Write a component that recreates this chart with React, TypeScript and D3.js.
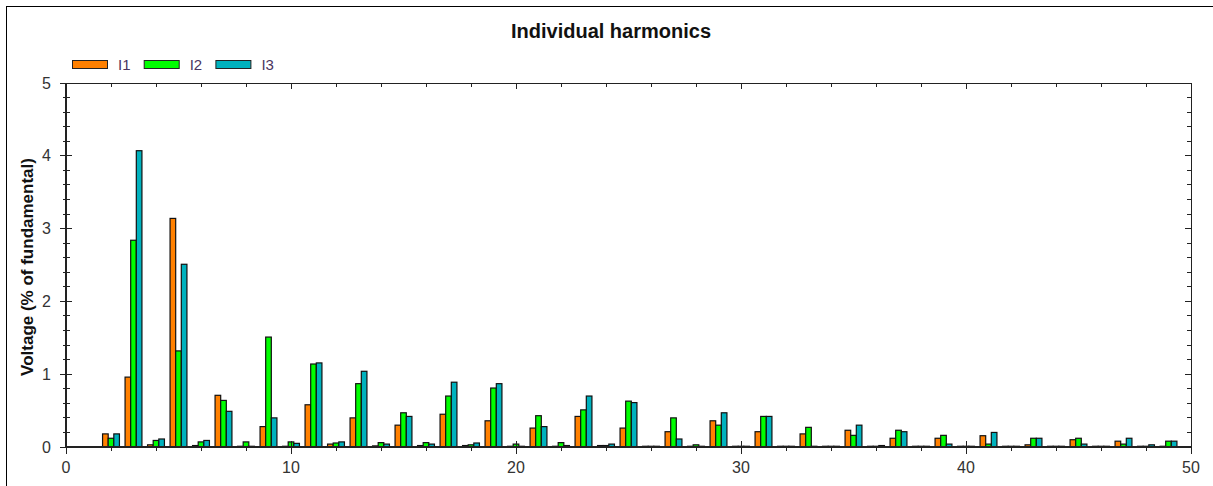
import React from "react";
import * as d3 from "d3";

// Harmonic orders shown on the x axis
const harmonics = [
  2, 3, 4, 5, 6, 7, 8, 9, 10, 11, 12, 13, 14, 15, 16, 17, 18, 19, 20, 21, 22, 23, 24, 25,
  26, 27, 28, 29, 30, 31, 32, 33, 34, 35, 36, 37, 38, 39, 40, 41, 42, 43, 44, 45, 46, 47, 48, 49,
];

// Harmonic magnitude, % of fundamental, per phase
const i1 = [
  0.18, 0.96, 0.03, 3.14, 0.02, 0.71, 0.01, 0.28, 0.01, 0.58, 0.04, 0.4, 0.015, 0.3, 0.02, 0.45,
  0.02, 0.36, 0.01, 0.26, 0.01, 0.42, 0.02, 0.26, 0.01, 0.21, 0.01, 0.36, 0.01, 0.21, 0.01, 0.18,
  0.01, 0.23, 0.01, 0.12, 0.01, 0.12, 0.01, 0.155, 0.01, 0.03, 0.01, 0.1, 0.01, 0.08, 0.01, 0.01,
];
const i2 = [
  0.12, 2.84, 0.09, 1.32, 0.07, 0.64, 0.07, 1.51, 0.07, 1.14, 0.055, 0.87, 0.06, 0.47, 0.06, 0.7,
  0.03, 0.81, 0.04, 0.43, 0.06, 0.51, 0.02, 0.63, 0.01, 0.4, 0.03, 0.3, 0.01, 0.42, 0.01, 0.27,
  0.01, 0.16, 0.01, 0.23, 0.01, 0.16, 0.01, 0.04, 0.01, 0.12, 0.01, 0.12, 0.01, 0.04, 0.01, 0.08,
];
const i3 = [
  0.18, 4.07, 0.11, 2.51, 0.09, 0.49, 0.01, 0.4, 0.05, 1.155, 0.07, 1.04, 0.04, 0.42, 0.04, 0.89,
  0.055, 0.87, 0.01, 0.28, 0.02, 0.7, 0.04, 0.61, 0.01, 0.11, 0.01, 0.47, 0.01, 0.42, 0.01, 0.01,
  0.01, 0.3, 0.02, 0.21, 0.01, 0.04, 0.01, 0.2, 0.01, 0.12, 0.01, 0.04, 0.01, 0.12, 0.03, 0.08,
];

const seriesNames = ["I1", "I2", "I3"];
const seriesValues = [i1, i2, i3];
const seriesColors = ["#FF8000", "#00FF00", "#00B2BE"];

const xMajorTicks = [0, 10, 20, 30, 40, 50];
const yMajorTicks = [0, 1, 2, 3, 4, 5];

const W = 1213;
const H = 486;
const FONT = "'Liberation Sans', Arial, sans-serif";

export default function App() {
  const left = 66;
  const right = 1191;
  const top = 83;
  const bottom = 447;

  const x = d3.scaleLinear().domain([0, 50]).range([left, right]);
  const y = d3.scaleLinear().domain([0, 5]).range([bottom, top]);

  const groupWidth = x(0.75) - x(0);
  const sub = d3.scaleBand<string>().domain(seriesNames).range([-groupWidth / 2, groupWidth / 2]);

  const xMinor = d3.range(2, 50, 2).filter((v) => v % 10 !== 0);
  const yMinor = d3.range(0, 5.0001, 0.2).filter((v) => Math.abs(v - Math.round(v)) > 1e-6);

  const axisColor = "#222";

  return (
    <div style={{ position: "absolute", left: 0, top: 0 }}>
      <svg width={W} height={H} style={{ display: "block", background: "#fff" }}>
        {/* outer frame */}
        <rect x={6.5} y={6.5} width={W + 10} height={H + 10} fill="#fff" stroke="#000" strokeWidth={1} />

        {/* title */}
        <text x={611} y={38} textAnchor="middle" fontFamily={FONT} fontWeight="bold" fontSize={20} fill="#111">
          Individual harmonics
        </text>

        {/* legend */}
        {seriesNames.map((name, i) => (
          <g key={name} transform={`translate(${72 + i * 71.7},0)`}>
            <rect x={0.5} y={60.5} width={35} height={8} fill={seriesColors[i]} stroke="#222" strokeWidth={1} />
            <text x={46} y={70} fontFamily={FONT} fontSize={15} fill="#4a3560">
              {name}
            </text>
          </g>
        ))}

        {/* y axis title */}
        <text
          transform={`translate(27,${(top + bottom) / 2 + 2}) rotate(-90)`}
          textAnchor="middle"
          dominantBaseline="central"
          fontFamily={FONT}
          fontWeight="bold"
          fontSize={17}
          fill="#111"
        >
          Voltage (% of fundamental)
        </text>

        {/* bars */}
        {seriesNames.map((name, si) => (
          <g key={name}>
            {harmonics.map((h, hi) => {
              const v = seriesValues[si][hi];
              const x0 = x(h) + (sub(name) as number);
              const bw = sub.bandwidth();
              return (
                <rect
                  key={h}
                  x={x0}
                  y={y(v)}
                  width={bw}
                  height={bottom - y(v)}
                  fill={seriesColors[si]}
                  stroke="#111"
                  strokeWidth={1.2}
                />
              );
            })}
          </g>
        ))}

        {/* plot frame */}
        <g stroke={axisColor} strokeWidth={1} fill="none" shapeRendering="crispEdges">
          <line x1={left} x2={right} y1={top} y2={top} />
          <line x1={left} x2={right} y1={bottom} y2={bottom} strokeWidth={1.5} />
          <line x1={left} x2={left} y1={top} y2={bottom} strokeWidth={1.5} />
          <line x1={right} x2={right} y1={top} y2={bottom} />

          {/* left axis ticks */}
          {yMajorTicks.map((v) => (
            <line key={`yl${v}`} x1={left - 6} x2={left + 6} y1={y(v)} y2={y(v)} />
          ))}
          {yMinor.map((v) => (
            <line key={`ylm${v}`} x1={left - 3} x2={left + 4} y1={y(v)} y2={y(v)} />
          ))}
          {/* right axis ticks */}
          {yMajorTicks.map((v) => (
            <line key={`yr${v}`} x1={right - 6} x2={right} y1={y(v)} y2={y(v)} />
          ))}
          {yMinor.map((v) => (
            <line key={`yrm${v}`} x1={right - 4} x2={right} y1={y(v)} y2={y(v)} />
          ))}
          {/* bottom axis ticks */}
          {xMajorTicks.map((v) => (
            <line key={`xb${v}`} x1={x(v)} x2={x(v)} y1={bottom - 6} y2={bottom + 7} />
          ))}
          {xMinor.map((v) => (
            <line key={`xbm${v}`} x1={x(v)} x2={x(v)} y1={bottom - 1} y2={bottom + 4} />
          ))}
          {/* top axis ticks */}
          {xMajorTicks.map((v) => (
            <line key={`xt${v}`} x1={x(v)} x2={x(v)} y1={top} y2={top + 6} />
          ))}
          {xMinor.map((v) => (
            <line key={`xtm${v}`} x1={x(v)} x2={x(v)} y1={top} y2={top + 4} />
          ))}
        </g>

        {/* tick labels */}
        {yMajorTicks.map((v) => (
          <text key={`yt${v}`} x={51} y={y(v) + 5.5} textAnchor="end" fontFamily={FONT} fontSize={16} fill="#333">
            {v}
          </text>
        ))}
        {xMajorTicks.map((v) => (
          <text key={`xt${v}`} x={x(v)} y={473} textAnchor="middle" fontFamily={FONT} fontSize={16} fill="#333">
            {v}
          </text>
        ))}
      </svg>
    </div>
  );
}
